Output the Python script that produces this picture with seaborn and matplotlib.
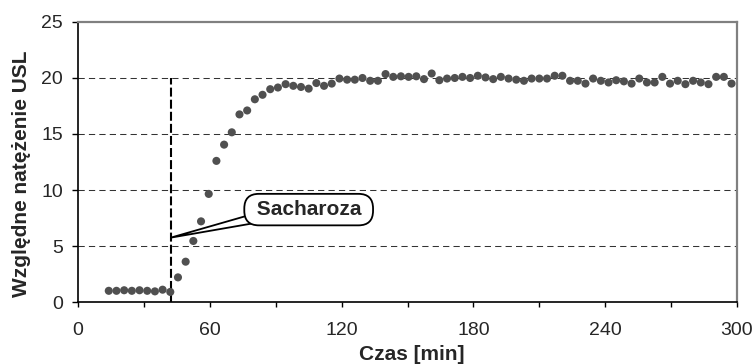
import pandas as pd
import seaborn as sns
import matplotlib
matplotlib.use('Agg')
import matplotlib.pyplot as plt

# Dane
czas = [14, 17.5, 21, 24.5, 28, 31.5, 35, 38.5, 42, 45.5, 49, 52.5, 56, 59.5,
        63, 66.5, 70, 73.5, 77, 80.5, 84, 87.5, 91, 94.5, 98, 101.5, 105, 108.5,
        112, 115.5, 119, 122.5, 126, 129.5, 133, 136.5, 140, 143.5, 147, 150.5,
        154, 157.5, 161, 164.5, 168, 171.5, 175, 178.5, 182, 185.5, 189, 192.5,
        196, 199.5, 203, 206.5, 210, 213.5, 217, 220.5, 224, 227.5, 231, 234.5,
        238, 241.5, 245, 248.5, 252, 255.5, 259, 262.5, 266, 269.5, 273, 276.5,
        280, 283.5, 287, 290.5, 294, 297.5]
natezenie = [1.0, 1.0, 1.05, 1.0, 1.05, 1.0, 0.95, 1.1, 0.9, 2.2, 3.6, 5.45, 7.2, 9.65,
             12.6, 14.05, 15.15, 16.75, 17.1, 18.1, 18.5, 19.0, 19.15, 19.45, 19.3, 19.2, 19.05, 19.55,
             19.3, 19.5, 19.95, 19.85, 19.85, 20.0, 19.75, 19.75, 20.35, 20.1, 20.15, 20.1,
             20.15, 19.9, 20.4, 19.8, 19.95, 20.0, 20.1, 20.0, 20.2, 20.05, 19.9, 20.1,
             19.95, 19.85, 19.75, 19.95, 19.95, 19.95, 20.2, 20.2, 19.75, 19.75, 19.5, 19.95,
             19.75, 19.6, 19.8, 19.7, 19.5, 19.95, 19.6, 19.6, 20.1, 19.5, 19.75, 19.45,
             19.75, 19.6, 19.45, 20.1, 20.1, 19.5]

czas_dodania = 42.3      # moment dodania sacharozy
poziom_linii = 20
etykieta = 'Sacharoza'
strzalka_y = 5.75
tekst_xy = (105, 8.25)
nasada_xy = (80, 7.45)   # poczatek "dziobka" objasnienia (schowany pod ramka)

x_ticks = [0, 60, 120, 180, 240, 300]
x_minor = [30, 90, 150, 210, 270]
y_ticks = [0, 5, 10, 15, 20, 25]

df = pd.DataFrame({'czas': czas, 'natezenie': natezenie})

sns.set_theme(style='white')
plt.rcParams['font.family'] = ['Liberation Sans', 'DejaVu Sans']

fig = plt.figure(figsize=(7.56, 3.64), dpi=100)
ax = fig.add_axes([0.1032, 0.1703, 0.8717, 0.7693])

# siatka pozioma
for yv in y_ticks[1:-1]:
    ax.axhline(yv, color='#333333', lw=0.75, ls=(0, (6, 4)), zorder=1)

ax.vlines(czas_dodania, 0, poziom_linii, colors='black', lw=1.5,
          linestyles=[(0, (4.3, 1.5))], zorder=2)

sns.scatterplot(data=df, x='czas', y='natezenie', color='#505050', s=34,
                edgecolor='none', ax=ax, zorder=3)

# objasnienie: dziobek + zaokraglona ramka
ax.annotate('', xy=(czas_dodania, strzalka_y), xytext=nasada_xy,
            arrowprops=dict(arrowstyle='wedge,tail_width=0.33,shrink_factor=0.5',
                            mutation_scale=20, fc='white', ec='black', lw=1.3,
                            shrinkA=0, shrinkB=0),
            zorder=4)
ax.text(tekst_xy[0], tekst_xy[1], ' ' + etykieta + ' ', ha='center', va='center',
        fontsize=15, fontweight='bold', zorder=5,
        bbox=dict(boxstyle='round,pad=0.3,rounding_size=0.7', fc='white', ec='black', lw=1.3))

ax.set_xlim(0, 300)
ax.set_ylim(0, 25)
ax.set_xticks(x_ticks)
ax.set_xticks(x_minor, minor=True)
ax.set_yticks(y_ticks)
ax.tick_params(axis='x', which='both', direction='out', length=3.6, width=1,
               color='black', bottom=True, labelsize=14, pad=11)
ax.tick_params(axis='y', direction='out', length=4.3, width=1, color='black',
               left=True, labelsize=14, pad=6.5)

for s in ['top', 'right']:
    ax.spines[s].set_color('#808080')
    ax.spines[s].set_linewidth(1.6)
for s in ['left', 'bottom']:
    ax.spines[s].set_color('black')
    ax.spines[s].set_linewidth(1.2)

ax.set_xlabel('Czas [min]', fontsize=15, fontweight='bold')
ax.set_ylabel('Względne natężenie USL', fontsize=15, fontweight='bold')
ax.xaxis.set_label_coords(0.506, -0.152)
ax.yaxis.set_label_coords(-0.071, 0.457)

fig.savefig('out.png', dpi=100)
